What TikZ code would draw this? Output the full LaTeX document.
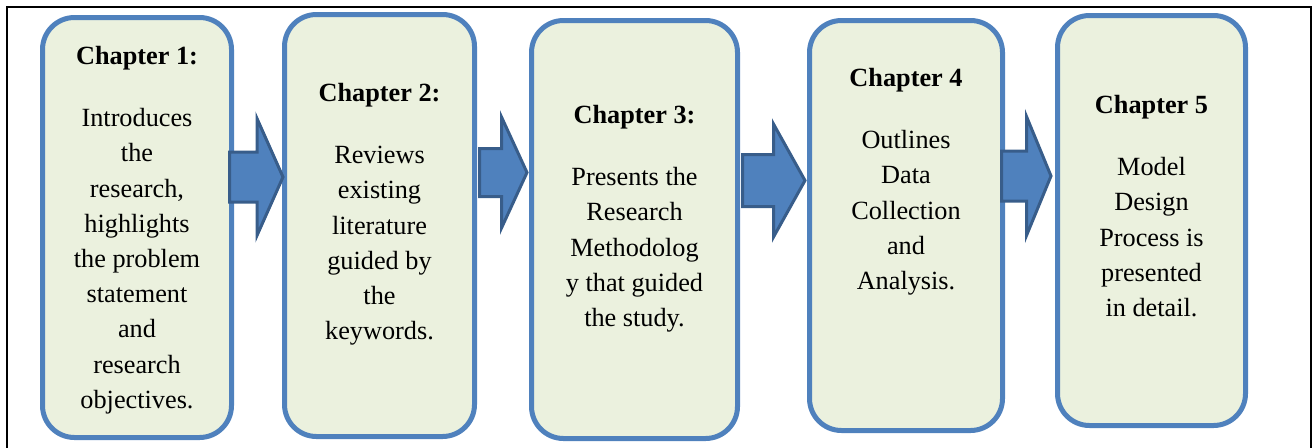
\documentclass[tikz,border=0pt]{standalone}
\usepackage{fontspec}
\setmainfont{Liberation Serif}
\usepackage{tikz}
\usetikzlibrary{positioning}
\definecolor{chapblue}{HTML}{4F81BD}
\definecolor{chapfill}{HTML}{EBF1DE}
\definecolor{arrowline}{HTML}{385D8A}
\tikzset{
  chapbox/.style={draw=chapblue,fill=chapfill,line width=3.75pt,rounded corners=24pt,inner sep=0pt},
  chaptext/.style={anchor=base,inner sep=0pt,font=\fontsize{19.7pt}{26.4pt}\selectfont},
  chaparrow/.style={draw=arrowline,fill=chapblue,line width=2.25pt,line join=miter}
}
\newcommand*{\chap}[2]{\begin{tabular}[t]{@{}c@{}}\textbf{#1}\\[20.6pt] #2\end{tabular}}

\begin{document}
\begin{tikzpicture}[x=0.75pt,y=-0.75pt]
\useasboundingbox (0,0) rectangle (1312,447);
% outer frame
\draw[line width=1.5pt] (6.5,470) |- (1310.5,6.5) -- (1310.5,470);
% chapter boxes
\foreach \n/\cx/\cy/\w/\h in {1/137/227.5/189/420, 2/379.5/225.5/190/422,
  3/634.5/229.5/206/418, 4/906/225.5/193/410, 5/1151.5/220.5/188/410}
  \node[chapbox,minimum width=\w*0.75pt,minimum height=\h*0.75pt] (b\n) at (\cx,\cy) {};
% block arrows
\foreach \sl/\hb/\tx/\cy/\hs/\hh in {229.5/257/283/177/25/58.5, 479.5/501.5/527/172.5/24/55.5,
  742.5/773.5/805/180.5/26/56.5, 1001.5/1026.5/1051/176/25/59.5}
  \draw[chaparrow] (\sl,\cy-\hs) -- (\hb,\cy-\hs) -- (\hb,\cy-\hh) -- (\tx,\cy)
    -- (\hb,\cy+\hh) -- (\hb,\cy+\hs) -- (\sl,\cy+\hs) -- cycle;
% texts
\node[chaptext] (t1) at (137,64) {\chap{Chapter 1:}{Introduces\\the\\research,\\highlights\\the problem\\statement\\and\\research\\objectives.}};
\node[chaptext] (t2) at (379.5,101) {\chap{Chapter 2:}{Reviews\\existing\\literature\\guided by\\the\\keywords.}};
\node[chaptext] (t3) at (634.5,123) {\chap{Chapter 3:}{Presents the\\Research\\Methodolog\\y that guided\\the study.}};
\node[chaptext] (t4) at (906,86) {\chap{Chapter 4}{Outlines\\Data\\Collection\\and\\Analysis.}};
\node[chaptext] (t5) at (1151.5,113) {\chap{Chapter 5}{Model\\Design\\Process is\\presented\\in detail.}};
\end{tikzpicture}
\end{document}
